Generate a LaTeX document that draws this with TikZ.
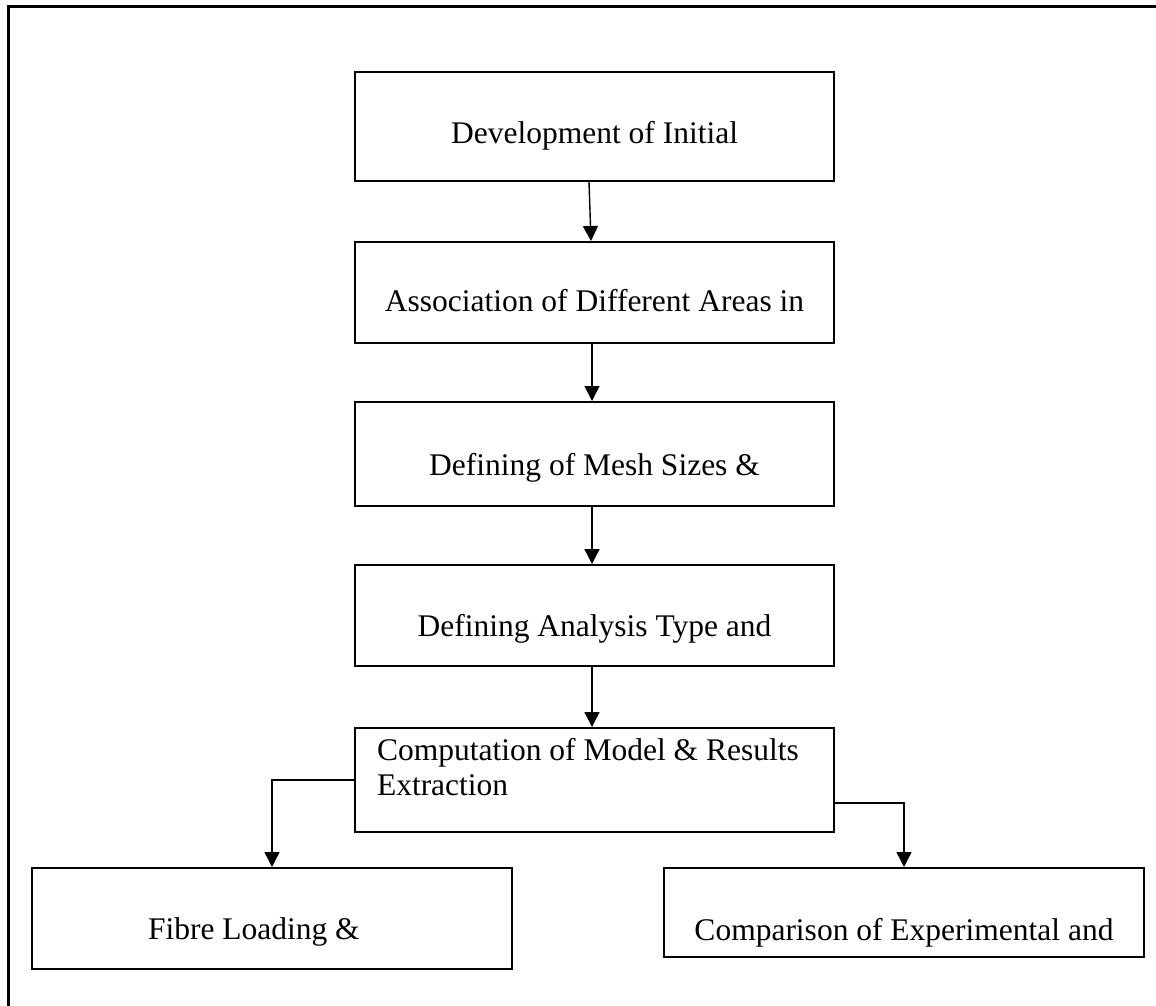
\documentclass[tikz,border=0pt]{standalone}
\usepackage{fontspec}
\setmainfont{Liberation Serif}
\usetikzlibrary{%
  arrows.meta,%
  positioning,%
  calc%
}

\begin{document}
\begin{tikzpicture}[
  x=0.5pt, y=-0.5pt,
  font=\fontsize{15.75pt}{17.5pt}\selectfont,
  >={Triangle[length=7.5pt,width=7.5pt]}, line width=0.7pt,
  box/.style={draw, line width=1pt, minimum width=239.5pt, inner sep=0pt,
    text depth=0pt},
  frame/.style={line width=1.5pt}
]

\useasboundingbox (0,0) rectangle (1156,1006);
\draw[frame] (8,1006) -- (8,7) -- (1156,7);

\node[box, minimum height=54.5pt, text height=16.5pt] (dev) at (594.5,126.5)
  {Development of Initial};
\node[box, minimum height=50.5pt, text height=19pt] (assoc) at (594.5,292.5)
  {Association of Different Areas in};
\node[box, minimum height=52pt, text height=21pt] (mesh) at (594.5,454)
  {Defining of Mesh Sizes \&};
\node[box, minimum height=50.5pt, text height=21pt] (analysis) at (594.5,615.5)
  {Defining Analysis Type and};
\node[box, minimum height=52pt, text width=217.5pt, align=flush left,
  inner xsep=11pt, text height=4pt, text depth=24pt] (compute) at (594.5,780)
  {Computation of Model \& Results\\Extraction};
\node[box, minimum height=50.5pt, text width=124pt, align=flush left,
  inner xsep=58pt, text height=20.5pt] (fibre) at (272,918.5)
  {Fibre Loading \&};
\node[box, minimum width=240pt, minimum height=44.5pt, text height=27.5pt]
  (compare) at (904,912.5) {Comparison of Experimental and};

\draw[->] ([xshift=-2.75pt]dev.south) -- ([xshift=-1.75pt]assoc.north);
\draw[->] ([xshift=-1.25pt]assoc.south) -- ([xshift=-1.25pt]mesh.north);
\draw[->] ([xshift=-1.25pt]mesh.south) -- ([xshift=-1.25pt]analysis.north);
\draw[->] ([xshift=-1.25pt]analysis.south) -- ([xshift=-1.25pt]compute.north);
\draw[->] (compute.west) -| (fibre.north);
\draw[->] ([yshift=-11.5pt]compute.east) -| (compare.north);

\end{tikzpicture}
\end{document}
